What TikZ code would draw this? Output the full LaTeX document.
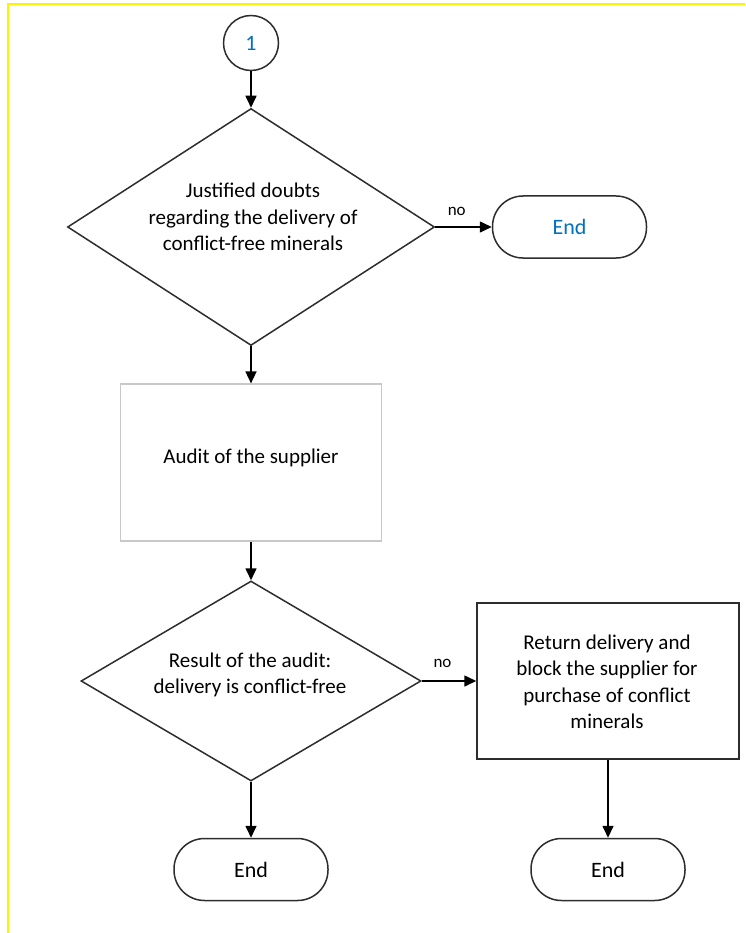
\documentclass[tikz,border=0pt]{standalone}
\usepackage{fontspec}
\setmainfont{Carlito}
\usetikzlibrary{shapes.geometric,arrows.meta}
\definecolor{frameyellow}{RGB}{255,242,0}
\definecolor{lineg}{RGB}{45,45,45}
\definecolor{boxgray}{RGB}{200,200,200}
\definecolor{txtblue}{RGB}{0,112,192}
\tikzset{
  shp/.style={draw=lineg, line width=1.5pt, fill=white, inner sep=0pt},
  decision/.style={shp, shape=diamond, minimum width=#1},
  term/.style={shp, rectangle, rounded corners=30.5pt, minimum width=154pt, minimum height=62pt, font=\fontsize{22}{26}\selectfont},
  proc/.style={shp, rectangle, minimum width=#1},
  ttext/.style={align=center, font=\fontsize{21}{26.5}\selectfont, inner sep=0pt},
  lbl/.style={font=\fontsize{17}{19}\selectfont, inner sep=0pt},
  arr/.style={draw=black, line width=1.6pt, -{Triangle[length=12pt,width=11pt]}}
}
\begin{document}
\begin{tikzpicture}[x=1pt,y=-1pt]
\useasboundingbox (0,0) rectangle (745,933);
\draw[frameyellow, line width=2.2pt] (8,933) -- (8,4) -- (745,4);

\node[shp, circle, minimum size=55pt, text=txtblue, font=\fontsize{22}{26}\selectfont] (c1) at (251,43) {1};

\node[decision=367pt, minimum height=237pt] (d1) at (251,227) {};
\node[ttext] (d1t) at (253,217) {Justified doubts\\regarding the delivery of\\conflict-free minerals};

\node[term, text=txtblue] (e1) at (569.5,227) {End};

\node[proc=261pt, draw=boxgray, line width=1.2pt, minimum height=157pt] (a1) at (251,462.5) {};
\node[ttext] (a1t) at (251,458) {Audit of the supplier};

\node[decision=340pt, minimum height=200pt] (d2) at (251,681) {};
\node[ttext] (d2t) at (250,675) {Result of the audit:\\delivery is conflict-free};

\node[proc=262pt, minimum height=156pt] (r1) at (608,681) {};
\node[ttext] (r1t) at (607,682) {Return delivery and\\block the supplier for\\purchase of conflict\\minerals};

\node[term] (e2) at (251,869.5) {End};
\node[term] (e3) at (608,869.5) {End};

\draw[arr] (c1.south) -- (d1.north);
\draw[arr] (d1.east) -- (e1.west) node[lbl, pos=0.38, above=11pt] {no};
\draw[arr] (d1.south) -- (a1.north);
\draw[arr] (a1.south) -- (d2.north);
\draw[arr] (d2.east) -- (r1.west) node[lbl, pos=0.38, above=13pt] {no};
\draw[arr] (d2.south) -- (e2.north);
\draw[arr] (r1.south) -- (e3.north);
\end{tikzpicture}
\end{document}
